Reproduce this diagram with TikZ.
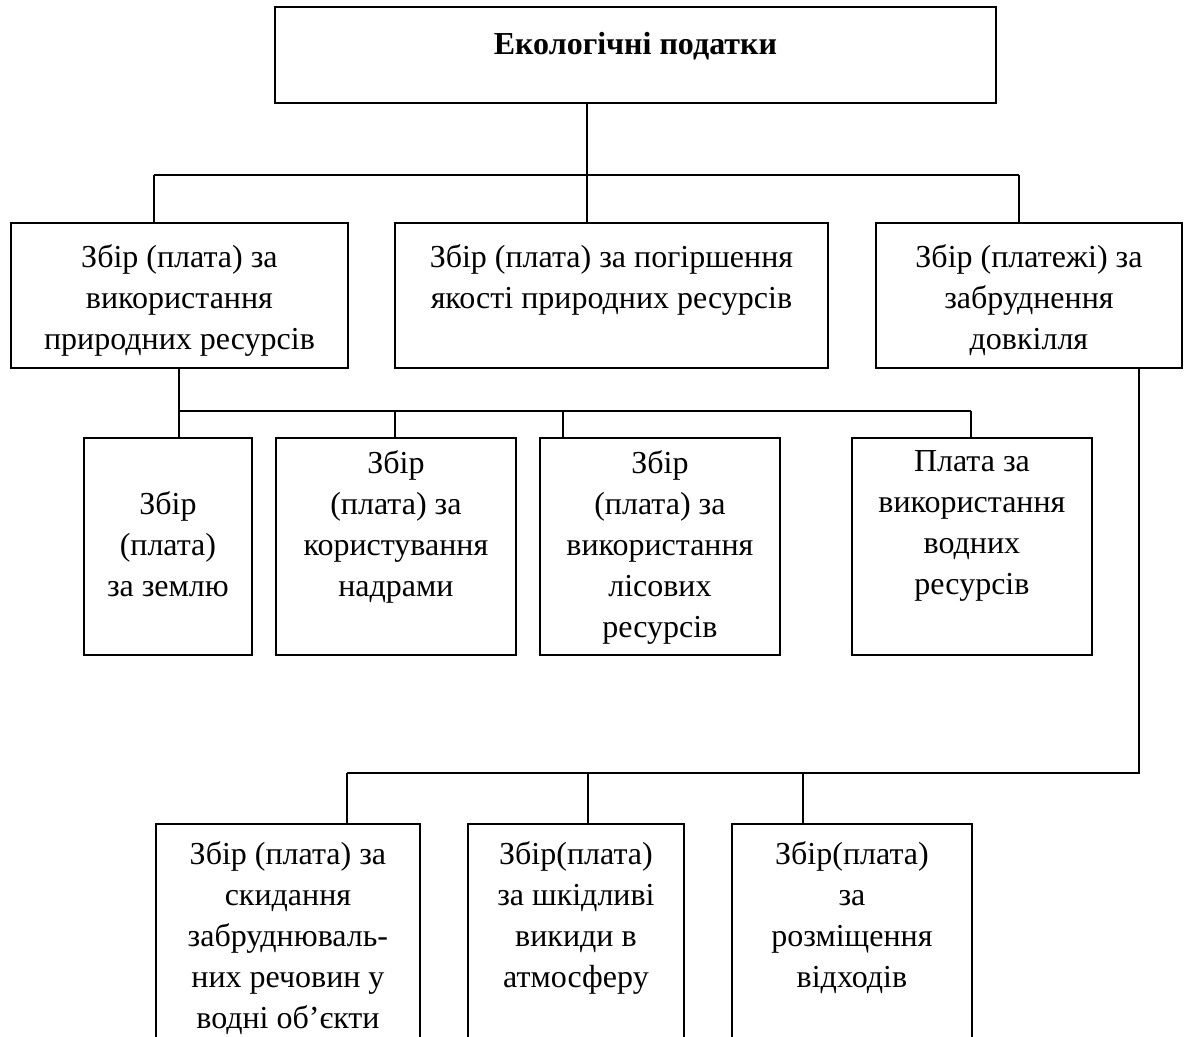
\documentclass[tikz,border=0pt]{standalone}
\usepackage{fontspec}
\setmainfont{Liberation Serif}
\newcommand{\cellbox}[4]{\parbox[t][#2][t]{#1}{\centering\vspace*{#3}#4\par}}
\begin{document}
\begin{tikzpicture}[x=0.75pt,y=-0.75pt,
  box/.style={draw, line width=1.4pt, inner sep=0pt, anchor=north west},
  link/.style={draw, line width=1.3pt}]
\clip (0,0) rectangle (1184,1036);
\fontsize{24}{30.75}\selectfont

% top level
\node[box] (top) at (274,6) {\cellbox{540.75pt}{72pt}{19pt}{\bfseries Екологічні податки}};

% second level
\node[box] (z1) at (10,222) {\cellbox{252.75pt}{108.75pt}{16.5pt}{Збір (плата) за\\використання\\природних ресурсів}};
\node[box] (z2) at (394,222) {\cellbox{324.75pt}{108.75pt}{16.5pt}{Збір (плата) за погіршення\\якості природних ресурсів}};
\node[box] (z3) at (875,222) {\cellbox{229.5pt}{108.75pt}{16.5pt}{Збір (платежі) за\\забруднення\\довкілля}};

% resource payments
\node[box] (b1) at (83,437) {\cellbox{126pt}{162.75pt}{40pt}{Збір\\(плата)\\за землю}};
\node[box] (b2) at (275,437) {\cellbox{180pt}{162.75pt}{9.25pt}{Збір\\(плата) за\\користування\\надрами}};
\node[box] (b3) at (539,437) {\cellbox{180pt}{162.75pt}{9.25pt}{Збір\\(плата) за\\використання\\лісових\\ресурсів}};
\node[box] (b4) at (851,437) {\cellbox{180pt}{162.75pt}{9.25pt}{Плата за\\використання\\водних\\ресурсів}};

% pollution payments
\node[box] (c1) at (155,823) {\cellbox{198pt}{175pt}{13.5pt}{Збір (плата) за\\скидання\\забруднюваль-\\них речовин у\\водні об’єкти}};
\node[box] (c2) at (467,823) {\cellbox{162pt}{175pt}{13.5pt}{Збір(плата)\\за шкідливі\\викиди в\\атмосферу}};
\node[box] (c3) at (731,823) {\cellbox{180pt}{175pt}{13.5pt}{Збір(плата)\\за\\розміщення\\відходів}};

% bus below the top box
\coordinate (j0) at (587,175);
\coordinate (jL) at (154,175);
\coordinate (jR) at (1019,175);
\draw[link] (top.south -| j0) -- (j0);
\draw[link] (jL) -- (jR);
\draw[link] (jL) -- (jL |- z1.north);
\draw[link] (j0) -- (j0 |- z2.north);
\draw[link] (jR) -- (jR |- z3.north);

% bus below the first box
\coordinate (m1) at (179,411);
\coordinate (m2) at (395,411);
\coordinate (m3) at (563,411);
\coordinate (m4) at (971,411);
\draw[link] (z1.south -| m1) -- (m1) -- (m4);
\draw[link] (m1) -- (m1 |- b1.north);
\draw[link] (m2) -- (m2 |- b2.north);
\draw[link] (m3) -- (m3 |- b3.north);
\draw[link] (m4) -- (m4 |- b4.north);

% bus below the third box
\coordinate (r0) at (1139,773);
\coordinate (r1) at (347,773);
\coordinate (r2) at (588,773);
\coordinate (r3) at (803,773);
\draw[link] (z3.south -| r0) -- (r0) -- (r1);
\draw[link] (r1) -- (r1 |- c1.north);
\draw[link] (r2) -- (r2 |- c2.north);
\draw[link] (r3) -- (r3 |- c3.north);
\end{tikzpicture}
\end{document}
